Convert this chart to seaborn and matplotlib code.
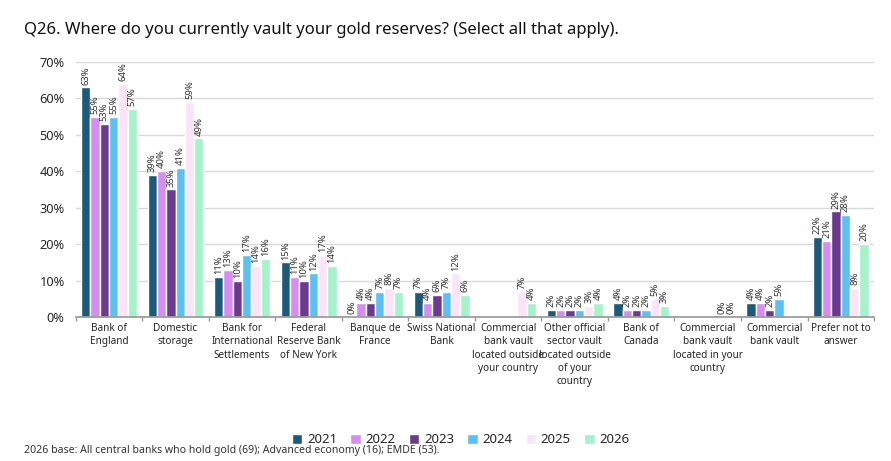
import numpy as np
import pandas as pd
import seaborn as sns
import matplotlib.pyplot as plt
from matplotlib.ticker import FixedLocator

categories = [
    "Bank of\nEngland",
    "Domestic\nstorage",
    "Bank for\nInternational\nSettlements",
    "Federal\nReserve Bank\nof New York",
    "Banque de\nFrance",
    "Swiss National\nBank",
    "Commercial\nbank vault\nlocated outside\nyour country",
    "Other official\nsector vault\nlocated outside\nof your\ncountry",
    "Bank of\nCanada",
    "Commercial\nbank vault\nlocated in your\ncountry",
    "Commercial\nbank vault",
    "Prefer not to\nanswer",
]
years = ["2021", "2022", "2023", "2024", "2025", "2026"]
nan = np.nan
v2021 = [63, 39, 11, 15, 0, 7, nan, 2, 4, nan, 4, 22]
v2022 = [55, 40, 13, 11, 4, 4, nan, 2, 2, nan, 4, 21]
v2023 = [53, 35, 10, 10, 4, 6, nan, 2, 2, nan, 2, 29]
v2024 = [55, 41, 17, 12, 7, 7, nan, 2, 2, nan, 5, 28]
v2025 = [64, 59, 14, 17, 8, 12, 7, 3, 5, 0, nan, 8]
v2026 = [57, 49, 16, 14, 7, 6, 4, 4, 3, 0, nan, 20]
colors = ["#1b5a78", "#d58ef0", "#6a3b8c", "#5cc0f0", "#fce4f8", "#a6f2cb"]

series = [v2021, v2022, v2023, v2024, v2025, v2026]
df = pd.DataFrame({
    "category": np.tile(categories, len(years)),
    "year": np.repeat(years, len(categories)),
    "value": np.concatenate(series) / 100.0,
}).dropna()

sns.set_theme(style="white")
plt.rcParams["font.family"] = ["Noto Sans", "DejaVu Sans"]

fig = plt.figure(figsize=(8.91, 4.61), dpi=100)
ax = fig.add_axes([0.085, 0.312, 0.896, 0.554])

sns.barplot(data=df, x="category", y="value", hue="year", order=categories,
            hue_order=years, palette=colors, width=0.84, saturation=1,
            legend=True, ax=ax)

for cont in ax.containers:
    ax.bar_label(cont, fmt=lambda v: f"{v * 100:.0f}%", rotation=90,
                 padding=2, fontsize=6.8, color="#333333")

ticks = np.arange(0, 0.71, 0.1)
ax.set_ylim(0, 0.70)
ax.set_yticks(ticks)
ax.set_yticklabels([f"{int(round(t * 100))}%" for t in ticks], fontsize=9.2)
ax.yaxis.grid(True, color="#d9d9d9", linewidth=1)
ax.set_axisbelow(True)
ax.set_xlim(-0.5, len(categories) - 0.5)
ax.set_xlabel("")
ax.set_ylabel("")
ax.tick_params(axis="x", which="major", length=0, labelsize=7.2, pad=4)
for lab in ax.get_xticklabels():
    lab.set_linespacing(1.3)
ax.tick_params(axis="y", length=0, pad=8)
ax.xaxis.set_minor_locator(FixedLocator(np.arange(-0.5, len(categories), 1.0)))
ax.tick_params(axis="x", which="minor", length=3, color="#999999", direction="out",
               bottom=True)
for s in ["top", "right", "left"]:
    ax.spines[s].set_visible(False)
ax.spines["bottom"].set_color("#999999")

handles, labels = ax.get_legend_handles_labels()
ax.get_legend().remove()
fig.legend(handles, labels, loc="center", bbox_to_anchor=(0.517, 0.046), ncol=6,
           frameon=False, fontsize=9.5, handlelength=0.8, handleheight=0.8,
           handletextpad=0.35, columnspacing=1.0)

fig.text(0.027, 0.935, "Q26. Where do you currently vault your gold reserves? (Select all that apply).",
         fontsize=12, fontweight="semibold", color="#111111", va="center")
fig.text(0.027, 0.022, "2026 base: All central banks who hold gold (69); Advanced economy (16); EMDE (53).",
         fontsize=7.6, color="#333333", va="center")

fig.savefig("out.png", dpi=100)
